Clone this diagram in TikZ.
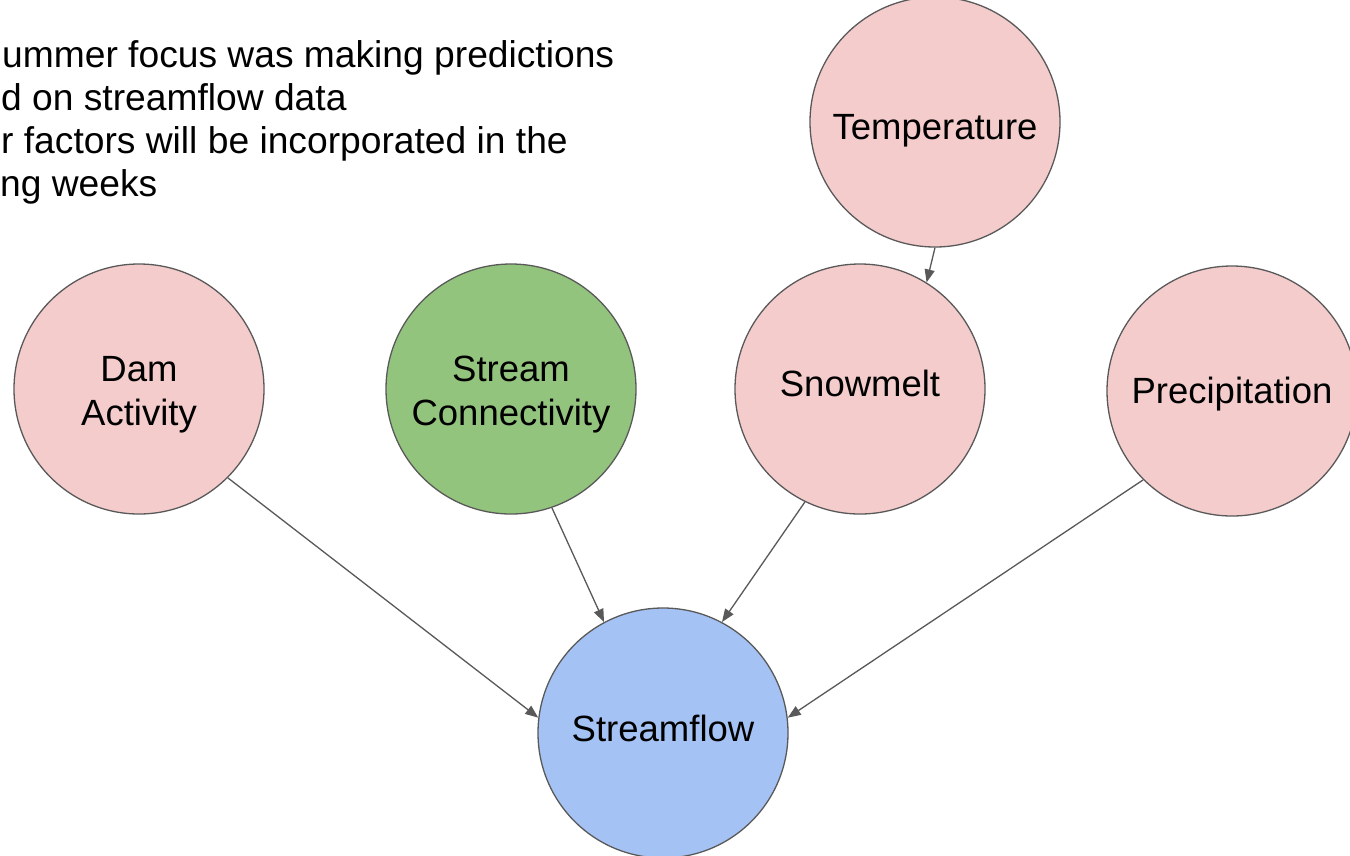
\documentclass[tikz,border=0pt]{standalone}
\usepackage{fontspec}
\setmainfont{Liberation Sans}
\usetikzlibrary{arrows.meta}
\definecolor{pinkfill}{HTML}{F4CCCC}
\definecolor{greenfill}{HTML}{93C47D}
\definecolor{bluefill}{HTML}{A4C2F4}
\definecolor{edgegray}{HTML}{595959}
\tikzset{
  bubble/.style={circle, draw=edgegray, line width=1.3pt, minimum size=250pt, inner sep=0pt},
  pinkbubble/.style={bubble, fill=pinkfill},
  bubbletext/.style={align=center, inner sep=0pt, font=\fontsize{36.5}{44}\selectfont},
  link/.style={draw=edgegray, line width=1.3pt, -{Triangle[length=13pt,width=10pt]}},
  notetext/.style={anchor=base west, inner sep=0pt, font=\fontsize{37.2}{44}\selectfont}
}
\begin{document}
\begin{tikzpicture}[x=1pt,y=-1pt]
\useasboundingbox (0,0) rectangle (1350,855);
\clip (0,0) rectangle (1350,855);
\fill[white] (0,0) rectangle (1350,855);
\node[notetext] (l1) at (2,67) {ummer focus was making predictions};
\node[notetext] (l2) at (1,110) {d on streamflow data};
\node[notetext] (l3) at (1,153) {r factors will be incorporated in the};
\node[notetext] (l4) at (0,196) {ng weeks};
\node[pinkbubble, label={[bubbletext, yshift=-9pt]center:Temperature}] (temp) at (935,122) {};
\node[pinkbubble, label={[bubbletext, yshift=-6pt]center:{Dam\\Activity}}] (dam) at (139,389) {};
\node[bubble, fill=greenfill, label={[bubbletext, yshift=-6pt]center:{Stream\\Connectivity}}] (conn) at (511,389) {};
\node[pinkbubble, label={[bubbletext, yshift=6pt]center:Snowmelt}] (snow) at (860,389) {};
\node[pinkbubble, label={[bubbletext, yshift=-3pt]center:Precipitation}] (prec) at (1232,391) {};
\node[bubble, fill=bluefill, label={[bubbletext, yshift=5pt]center:Streamflow}] (sf) at (663,733) {};
\draw[link] (temp.-90) -- (snow.58);
\draw[link] (dam.-45) -- (sf.173);
\draw[link] (conn.-71) -- (sf.118);
\draw[link] (snow.-116) -- (sf.62);
\draw[link] (prec.-135) -- (sf.7);
\end{tikzpicture}
\end{document}
